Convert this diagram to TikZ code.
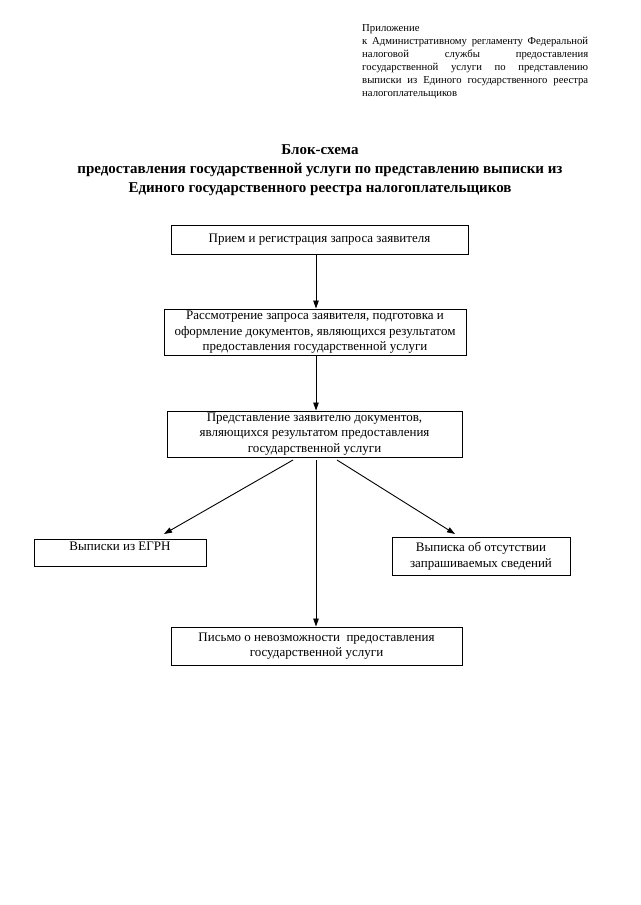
\documentclass[tikz,border=0pt]{standalone}
\usepackage{fontspec}
\setmainfont{Liberation Serif}
\usetikzlibrary{arrows.meta}
\begin{document}
\begin{tikzpicture}[x=1pt,y=-1pt,
  box/.style={draw, line width=1pt, inner sep=0pt, align=center,
    font=\fontsize{13}{15.5}\selectfont},
  arr/.style={line width=0.9pt, -{Triangle[length=8pt,width=5.5pt]}}]
\useasboundingbox (0,0) rectangle (640,905);
% header
\node[anchor=north west, inner sep=0pt, align=left,
  font=\fontsize{10.7}{13}\selectfont] (hdr) at (362,24) {%
  Приложение\\
  \makebox[226pt][s]{к Административному регламенту Федеральной}\\
  \makebox[226pt][s]{налоговой службы предоставления}\\
  \makebox[226pt][s]{государственной услуги по представлению}\\
  \makebox[226pt][s]{выписки из Единого государственного реестра}\\
  налогоплательщиков};
% title
\node[inner sep=0pt, align=center, font=\fontsize{15}{19}\selectfont\bfseries] (ttl) at (320,170) {%
  Блок-схема\\
  предоставления государственной услуги по представлению выписки из\\
  Единого государственного реестра налогоплательщиков};
% boxes
\node[box, minimum width=297pt, minimum height=29pt] (b1) at (319.5,239.5)
  {Прием и регистрация запроса заявителя};
\node[box, minimum width=302pt, minimum height=46pt, text depth=2pt] (b2) at (315,332)
  {Рассмотрение запроса заявителя, подготовка и\\оформление документов, являющихся результатом\\предоставления государственной услуги};
\node[box, minimum width=295pt, minimum height=46pt] (b3) at (314.5,434)
  {Представление заявителю документов,\\являющихся результатом предоставления\\государственной услуги};
\node[box, minimum width=172pt, text height=9pt, text depth=14pt, inner ysep=2pt] (b4) at (120,552.5)
  {Выписки из ЕГРН};
\node[box, minimum width=178pt, minimum height=38pt] (b5) at (481,556)
  {Выписка об отсутствии\\запрашиваемых сведений};
\node[box, minimum width=291pt, minimum height=38pt] (b6) at (316.5,646)
  {Письмо о невозможности\ \ предоставления\\государственной услуги};
% connectors
\coordinate (vx) at (316,0);
\coordinate (l0) at (293,460);
\coordinate (l1) at (164,534);
\coordinate (r0) at (337,460);
\coordinate (r1) at (455,534);
\coordinate (m0) at (316,460);
\draw[arr] (b1.south -| vx) -- (b2.north -| vx);
\draw[arr] (b2.south -| vx) -- (b3.north -| vx);
\draw[arr] (l0) -- (l1);
\draw[arr] (r0) -- (r1);
\draw[arr] (m0) -- (b6.north -| vx);
\end{tikzpicture}
\end{document}
